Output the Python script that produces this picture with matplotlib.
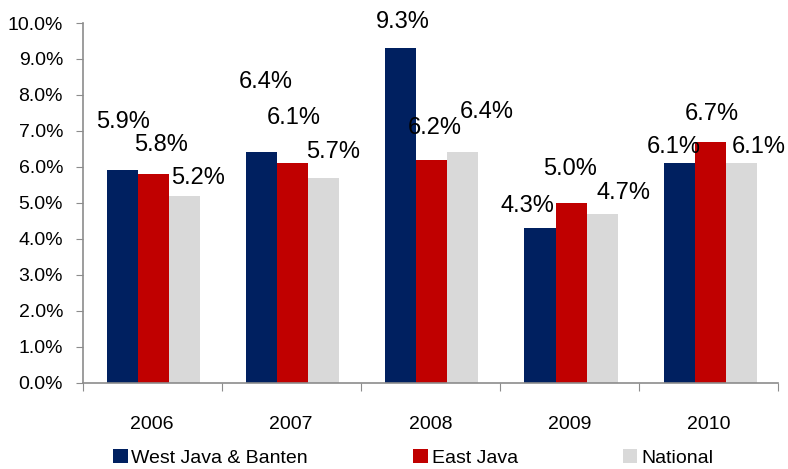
import matplotlib
matplotlib.use("Agg")
import matplotlib.pyplot as plt
import numpy as np

plt.rcParams['font.family'] = ['Liberation Sans', 'DejaVu Sans']

# data
years = ['2006', '2007', '2008', '2009', '2010']
series_names = ['West Java & Banten', 'East Java', 'National']
west_java = [5.9, 6.4, 9.3, 4.3, 6.1]
east_java = [5.8, 6.1, 6.2, 5.0, 6.7]
national = [5.2, 5.7, 6.4, 4.7, 6.1]

colors = ['#002060', '#C00000', '#D9D9D9']

# label placement (pixels), like the Excel original
label_dx = [[0, 3.5, 1.5, -13, -5.5],
            [7, 0.5, 2.5, -0.5, 1.5],
            [13, 9.5, 23.5, 21.5, 18]]
label_dy = [[48, 70, 26, 22, 16],
            [29, 45, 32, 34, 28],
            [18, 26, 40, 21, 16]]

fig = plt.figure(figsize=(7.88, 4.69), dpi=100)
ax = fig.add_axes([82.5 / 788, 1 - 382.5 / 469, (778 - 82.5) / 788, (382.5 - 23) / 469])

x = np.arange(len(years))
w = 0.223
all_series = [west_java, east_java, national]
for i, vals in enumerate(all_series):
    xs = x + (i - 1) * w + 0.012
    ax.bar(xs, vals, width=w, color=colors[i], label=series_names[i], zorder=2)
    for j, v in enumerate(vals):
        ax.annotate(f'{v:.1f}%', (xs[j], v), xytext=(label_dx[i][j], label_dy[i][j]),
                    textcoords='offset pixels', ha='center', va='center', fontsize=17)

ax.set_xlim(-0.5, len(years) - 0.5)
ax.set_ylim(0, 10)
ax.set_yticks(np.arange(0, 10.1, 1))
ax.set_yticklabels([f'{t:.1f}%' for t in np.arange(0, 10.1, 1)], fontsize=14)

# ticks between categories, labels at centres
ax.set_xticks(np.arange(-0.5, len(years), 1))
ax.set_xticklabels([])
ax.set_xticks(x, minor=True)
ax.set_xticklabels(years, minor=True, fontsize=14)
ax.tick_params(axis='x', which='major', length=6, color='#8c8c8c', direction='out')
ax.tick_params(axis='x', which='minor', length=0, pad=24)
ax.tick_params(axis='y', length=5, color='#8c8c8c', pad=9)

for s in ['top', 'right']:
    ax.spines[s].set_visible(False)
for s in ['left', 'bottom']:
    ax.spines[s].set_color('#8c8c8c')
    ax.spines[s].set_linewidth(1.2)

fig.legend(loc='center left', bbox_to_anchor=(113 / 788, 1 - 458 / 469), ncol=3,
           frameon=False, fontsize=14, handlelength=0.75, handleheight=0.75,
           handletextpad=0.2, columnspacing=5.4, borderpad=0, borderaxespad=0)

fig.savefig('out.png', dpi=100)
